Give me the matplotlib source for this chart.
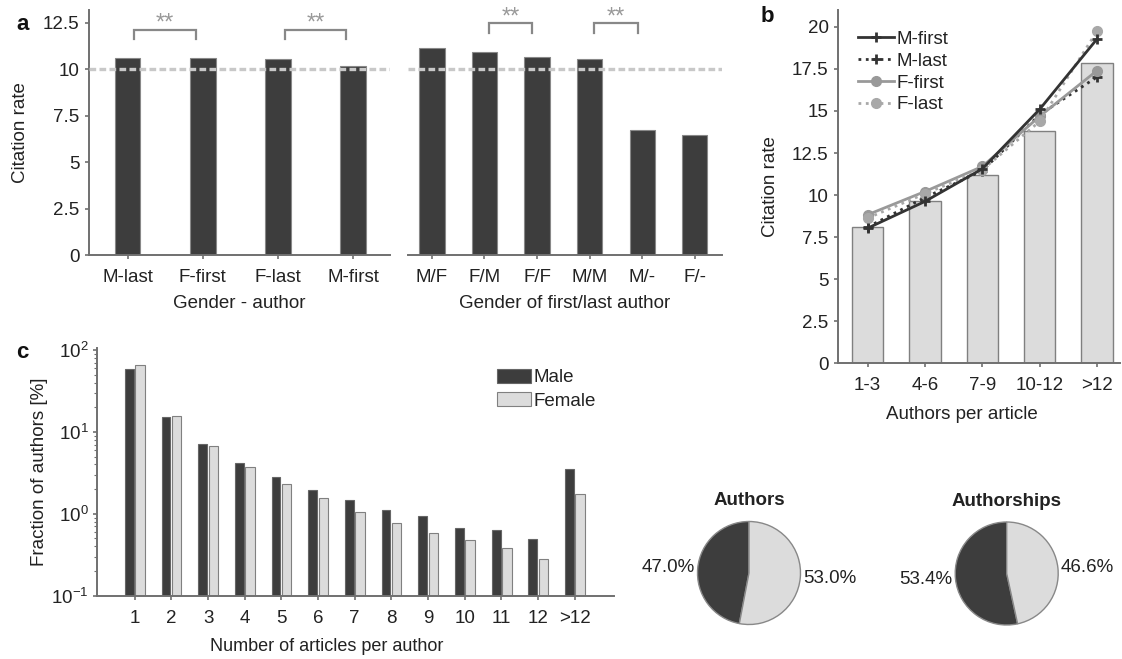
import matplotlib
matplotlib.use("Agg")
import matplotlib.pyplot as plt
import numpy as np
from matplotlib.ticker import FuncFormatter, LogLocator, NullFormatter

plt.rcParams['font.family'] = ['Liberation Sans', 'DejaVu Sans']
plt.rcParams['mathtext.fontset'] = 'custom'
plt.rcParams['mathtext.rm'] = 'Liberation Sans'
plt.rcParams['font.size'] = 13

# ---------------- data ----------------
a_left_cats = ['M-last', 'F-first', 'F-last', 'M-first']
a_left_vals = [10.59, 10.59, 10.54, 10.18]
a_right_cats = ['M/F', 'F/M', 'F/F', 'M/M', 'M/-', 'F/-']
a_right_vals = [11.13, 10.93, 10.65, 10.57, 6.75, 6.44]
a_baseline = 10.0
a_left_pairs = [(0, 1), (2, 3)]
a_right_pairs = [(1, 2), (3, 4)]

b_cats = ['1-3', '4-6', '7-9', '10-12', '>12']
b_bar = [8.13, 9.64, 11.19, 13.81, 17.86]
b_m_first = [8.03, 9.62, 11.56, 15.10, 19.28]
b_m_last = [8.10, 9.85, 11.45, 14.78, 17.02]
b_f_first = [8.83, 10.21, 11.70, 14.68, 17.40]
b_f_last = [8.63, 10.08, 11.50, 14.38, 19.74]

c_cats = ['1', '2', '3', '4', '5', '6', '7', '8', '9', '10', '11', '12', '>12']
c_male = [59.3, 15.2, 7.14, 4.19, 2.78, 1.95, 1.46, 1.11, 0.94, 0.68, 0.628, 0.496, 3.54]
c_female = [65.0, 15.5, 6.70, 3.71, 2.32, 1.54, 1.06, 0.776, 0.577, 0.478, 0.378, 0.283, 1.73]

pie_authors = [47.0, 53.0]
pie_authorships = [53.4, 46.6]

# ---------------- style ----------------
DARK = '#3d3d3d'
LIGHT = '#dcdcdc'
EDGE = '#808080'
SPINE = '#707070'
TXT = '#222222'
TICK_FS = 13.5
LAB_FS = 13.5
W, H = 1122, 659

fig = plt.figure(figsize=(11.22, 6.59), dpi=100)


def px_axes(x0, x1, ytop, ybot):
    return fig.add_axes([x0 / W, 1 - ybot / H, (x1 - x0) / W, (ybot - ytop) / H])


def style(ax, left=True):
    for s in ['top', 'right']:
        ax.spines[s].set_visible(False)
    for s in ['left', 'bottom']:
        ax.spines[s].set_color(SPINE)
        ax.spines[s].set_linewidth(1.4)
    if not left:
        ax.spines['left'].set_visible(False)
        ax.tick_params(axis='y', left=False, labelleft=False)
    ax.tick_params(axis='both', which='both', direction='out', color=SPINE,
                   labelcolor=TXT, labelsize=TICK_FS)
    ax.tick_params(axis='x', length=3, width=1.2, pad=7)
    ax.tick_params(axis='y', length=3, width=1.2, pad=4)


fmt = FuncFormatter(lambda v, p: '%g' % v)

# ---------------- panel a ----------------
axL = px_axes(89.3, 390, 10, 255)
axR = px_axes(407.7, 721.7, 10, 255)
for ax, cats, vals, w, xl in [
        (axL, a_left_cats, a_left_vals, 0.34, (-0.51, 3.49)),
        (axR, a_right_cats, a_right_vals, 0.48, (-0.46, 5.51))]:
    x = np.arange(len(cats))
    ax.bar(x, vals, width=w, color=DARK, edgecolor='#888888', linewidth=0.8, zorder=2)
    ax.set_xlim(*xl)
    ax.set_ylim(0, 13.2)
    ax.set_xticks(x)
    ax.set_xticklabels(cats)
    ax.axhline(a_baseline, color='#c8c8c8', lw=2.4, ls=(0, (2.0, 1.0)), zorder=3)
    style(ax, left=(ax is axL))

axL.set_yticks([0, 2.5, 5, 7.5, 10, 12.5])
axL.yaxis.set_major_formatter(fmt)
axL.set_ylabel('Citation rate', fontsize=LAB_FS, color=TXT)
axL.yaxis.set_label_coords(-0.202, 0.5)
axL.set_xlabel('Gender - author', fontsize=LAB_FS, color=TXT)
axL.xaxis.set_label_coords(0.5, -0.163)
axR.set_xlabel('Gender of first/last author', fontsize=LAB_FS, color=TXT)
axR.xaxis.set_label_coords(0.5, -0.163)


def bracket(ax, i, j, ytop, yleg, ystar):
    ax.plot([i + 0.09, i + 0.09, j - 0.09, j - 0.09], [yleg, ytop, ytop, yleg],
            color='#888888', lw=1.6, clip_on=False, solid_joinstyle='miter')
    ax.text((i + j) / 2, ystar, '**', ha='center', va='center', color='#999999',
            fontsize=17, clip_on=False)


for i, j in a_left_pairs:
    bracket(axL, i, j, 12.1, 11.63, 12.45)
for i, j in a_right_pairs:
    bracket(axR, i, j, 12.48, 11.94, 12.8)

fig.text(23 / W, 1 - 25 / H, 'a', fontsize=16, fontweight='bold', ha='center', va='center', color='#111')

# ---------------- panel b ----------------
axB = px_axes(838.3, 1120, 10, 363.3)
xb = np.arange(len(b_cats))
axB.bar(xb, b_bar, width=0.55, color=LIGHT, edgecolor=EDGE, linewidth=1.0, zorder=1)
axB.plot(xb, b_m_first, color='#333333', lw=2, ls='-', marker='+', ms=7, mew=2, label='M-first', zorder=4)
axB.plot(xb, b_m_last, color='#333333', lw=2, ls=':', marker='+', ms=7, mew=2, label='M-last', zorder=3)
axB.plot(xb, b_f_first, color='#999999', lw=2, ls='-', marker='o', ms=7, label='F-first', zorder=3)
axB.plot(xb, b_f_last, color='#a8a8a8', lw=2, ls=':', marker='o', ms=7, label='F-last', zorder=3)
axB.set_xlim(-0.51, 4.4)
axB.set_ylim(0, 21)
axB.set_xticks(xb)
axB.set_xticklabels(b_cats)
axB.set_yticks(np.arange(0, 20.1, 2.5))
axB.yaxis.set_major_formatter(fmt)
style(axB)
axB.set_ylabel('Citation rate', fontsize=LAB_FS, color=TXT)
axB.yaxis.set_label_coords(-0.2116, 0.5)
axB.set_xlabel('Authors per article', fontsize=LAB_FS, color=TXT)
axB.xaxis.set_label_coords(0.438, -0.12)
leg = axB.legend(loc='upper left', bbox_to_anchor=(0.03, 0.973), frameon=False, fontsize=LAB_FS,
                 handlelength=1.9, handletextpad=0.15, labelspacing=0.25, borderaxespad=0.2)
for t in leg.get_texts():
    t.set_color(TXT)
fig.text(767 / W, 1 - 16 / H, 'b', fontsize=16, fontweight='bold', ha='center', va='center', color='#111')

# ---------------- panel c ----------------
axC = px_axes(97.3, 614, 348, 595.7)
xc = np.arange(1, len(c_cats) + 1)
axC.bar(xc - 0.145, c_male, width=0.24, color=DARK, edgecolor='#666666', linewidth=0.8, label='Male')
axC.bar(xc + 0.145, c_female, width=0.26, color=LIGHT, edgecolor=EDGE, linewidth=0.8, label='Female')
axC.set_yscale('log')
axC.set_ylim(0.1, 105.8)
axC.set_xlim(-0.02, 14.07)
axC.set_xticks(xc)
axC.set_xticklabels(c_cats)
axC.yaxis.set_major_locator(LogLocator(base=10, numticks=10))
axC.yaxis.set_minor_locator(LogLocator(base=10, subs=np.arange(2, 10), numticks=10))
axC.yaxis.set_minor_formatter(NullFormatter())
style(axC)
axC.tick_params(axis='y', which='minor', length=2, width=0.8)
axC.tick_params(axis='y', which='major', length=3, pad=3)
axC.set_ylabel('Fraction of authors [%]', fontsize=LAB_FS, color=TXT)
axC.yaxis.set_label_coords(-0.095, 0.5)
axC.set_xlabel('Number of articles per author', fontsize=13, color=TXT)
axC.xaxis.set_label_coords(0.444, -0.171)
legc = axC.legend(loc='upper left', bbox_to_anchor=(0.76, 0.947), frameon=False, fontsize=LAB_FS,
                  handlelength=1.8, handleheight=0.8, handletextpad=0.1, labelspacing=0.3,
                  borderaxespad=0.0)
for t in legc.get_texts():
    t.set_color(TXT)
fig.text(22 / W, 1 - 352 / H, 'c', fontsize=16, fontweight='bold', ha='center', va='center', color='#111')

# ---------------- pies ----------------
for cx, cy, vals, title in [(749, 573, pie_authors, 'Authors'),
                            (1006.7, 573.5, pie_authorships, 'Authorships')]:
    r = 51.5
    axp = px_axes(cx - r, cx + r, cy - r, cy + r)
    labels = ['%.1f%%' % v for v in vals]
    wedges, texts = axp.pie(vals, colors=[DARK, LIGHT], startangle=90, counterclock=True,
                            labels=labels, labeldistance=1.06,
                            wedgeprops=dict(edgecolor='#888888', linewidth=1.0),
                            textprops=dict(fontsize=LAB_FS, color=TXT))
    axp.set_xlim(-1, 1)
    axp.set_ylim(-1, 1)
    axp.set_aspect('equal')
    axp.axis('off')
    axp.text(0, 1.40, title, ha='center', va='center', fontsize=13.5, fontweight='bold', color=TXT)

fig.savefig('out.png', dpi=100)
